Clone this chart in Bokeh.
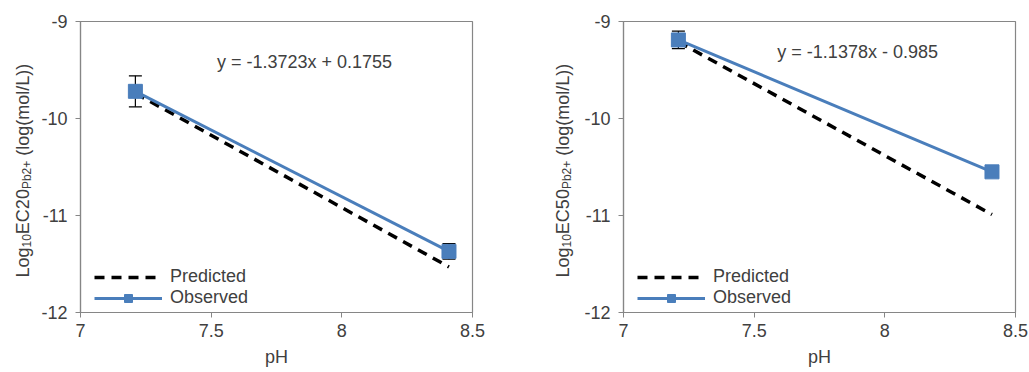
import math
from bokeh.plotting import figure
from bokeh.layouts import row
from bokeh.core.properties import value
from bokeh.models import (ColumnDataSource, Whisker, TeeHead, Label, Legend,
                          LegendItem, Range1d, FixedTicker)
from bokeh.embed import file_html
from bokeh.resources import INLINE

# ---------------- data ----------------
ph = [7.21, 8.41]

ec20_obs = [-9.72, -11.37]
ec20_err = [0.16, 0.08]
ec20_pred = [-9.74, -11.53]
ec20_eq = "y = -1.3723x + 0.1755"

ec50_obs = [-9.19, -10.55]
ec50_err = [0.09, 0.04]
ec50_pred = [-9.21, -10.99]
ec50_eq = "y = -1.1378x - 0.985"

x_ticks = [7, 7.5, 8, 8.5]
x_tick_labels = ["7", "7.5", "8", "8.5"]
y_ticks = [-12, -11, -10, -9]
y_tick_labels = ["-12", "-11", "-10", "-9"]

FONT = "Liberation Sans"
TXT = "#404040"
AX = "#868686"
BLUE = "#4A7EBB"
FS = "18px"
H = 372
TOP = 21
BOT = 60


def ylabel_fig(width, base_x, ec_name):
    # frame matches the neighbour plot's frame; y data = pixels from canvas bottom
    f = figure(width=width, height=H, output_backend="svg", toolbar_location=None,
               x_range=Range1d(0, width), y_range=Range1d(BOT, H - TOP),
               x_axis_location=None, y_axis_location=None,
               min_border_left=0, min_border_right=0,
               min_border_top=TOP, min_border_bottom=BOT)
    f.grid.visible = False
    f.outline_line_color = None
    f.border_fill_color = "white"
    pieces = [("Log", 18, 0, 1.668), ("10", 12, 4, 1.112), (ec_name, 18, 0, 2.501),
              ("Pb2+", 12, 4, 2.363), ("(log(mol/L))", 18, 0, 5.111)]
    ypos = H - 277
    for txt, fs, shift, em in pieces:
        if txt.startswith("("):
            ypos += 5
        f.text(x=[base_x + shift], y=[ypos], text=[txt], angle=math.pi / 2,
               text_font=value(FONT), text_font_size=f"{fs}px", text_color=TXT,
               text_align="left", text_baseline="alphabetic")
        ypos += em * fs
    return f


def panel(obs, err, pred, eq, eq_pos, width, left_border, right_border):
    p = figure(width=width, height=H, output_backend="svg", toolbar_location=None,
               x_range=Range1d(7, 8.5), y_range=Range1d(-12, -9),
               min_border_left=left_border, min_border_right=right_border,
               min_border_top=TOP, min_border_bottom=BOT)
    p.grid.visible = False
    p.outline_line_color = AX
    p.outline_line_width = 1.2
    p.background_fill_color = "white"
    p.border_fill_color = "white"
    for ax in (p.xaxis, p.yaxis):
        ax.axis_line_color = AX
        ax.axis_line_width = 1.2
        ax.major_tick_line_color = AX
        ax.major_tick_in = 0
        ax.major_tick_out = 5
        ax.minor_tick_line_color = None
        ax.major_label_text_font = FONT
        ax.major_label_text_font_size = FS
        ax.major_label_text_color = TXT
    p.xaxis.ticker = FixedTicker(ticks=x_ticks)
    p.yaxis.ticker = FixedTicker(ticks=y_ticks)
    p.xaxis.major_label_overrides = dict(zip(x_ticks, x_tick_labels))
    p.yaxis.major_label_overrides = dict(zip(y_ticks, y_tick_labels))
    p.xaxis.major_label_standoff = 6
    p.yaxis.major_label_standoff = 8
    p.xaxis.axis_label = "pH"
    p.xaxis.axis_label_text_font = FONT
    p.xaxis.axis_label_text_font_size = FS
    p.xaxis.axis_label_text_font_style = "normal"
    p.xaxis.axis_label_text_color = TXT
    p.xaxis.axis_label_standoff = 7

    upper = [o + e for o, e in zip(obs, err)]
    lower = [o - e for o, e in zip(obs, err)]
    src = ColumnDataSource(dict(x=ph, obs=obs, pred=pred, upper=upper, lower=lower))

    pred_r = p.line("x", "pred", source=src, line_color="black", line_width=3.5,
                    line_dash="10 7")
    obs_l = p.line("x", "obs", source=src, line_color=BLUE, line_width=3)
    wh = Whisker(source=src, base="x", upper="upper", lower="lower",
                 dimension="height", line_color="black", line_width=1.2,
                 upper_head=TeeHead(size=13, line_color="black", line_width=1.2),
                 lower_head=TeeHead(size=13, line_color="black", line_width=1.2))
    p.add_layout(wh)
    obs_m = p.scatter("x", "obs", source=src, marker="square", size=14,
                      fill_color=BLUE, line_color=BLUE)

    legend = Legend(items=[LegendItem(label="Predicted", renderers=[pred_r]),
                           LegendItem(label="Observed", renderers=[obs_l, obs_m])],
                    location=(14, 4), border_line_color=None,
                    background_fill_alpha=0, padding=0, margin=0, spacing=0,
                    glyph_width=68, glyph_height=20, label_height=20,
                    label_standoff=8, label_text_font=FONT,
                    label_text_font_size=FS, label_text_color=TXT)
    p.add_layout(legend, "center")

    p.add_layout(Label(x=eq_pos[0], y=eq_pos[1], text=eq, text_font=FONT,
                       text_font_size=FS, text_color=TXT,
                       text_align="center", text_baseline="middle"))
    return p


l1 = ylabel_fig(38, 22, "EC20")
p1 = panel(ec20_obs, ec20_err, ec20_pred, ec20_eq, (7.857, -9.415), 477, 42, 43)
l2 = ylabel_fig(62, 47, "EC50")
p2 = panel(ec50_obs, ec50_err, ec50_pred, ec50_eq, (7.896, -9.31), 452, 46, 14)

layout = row(l1, p1, l2, p2, spacing=0)
open("out.html", "w").write(file_html(layout, INLINE))
